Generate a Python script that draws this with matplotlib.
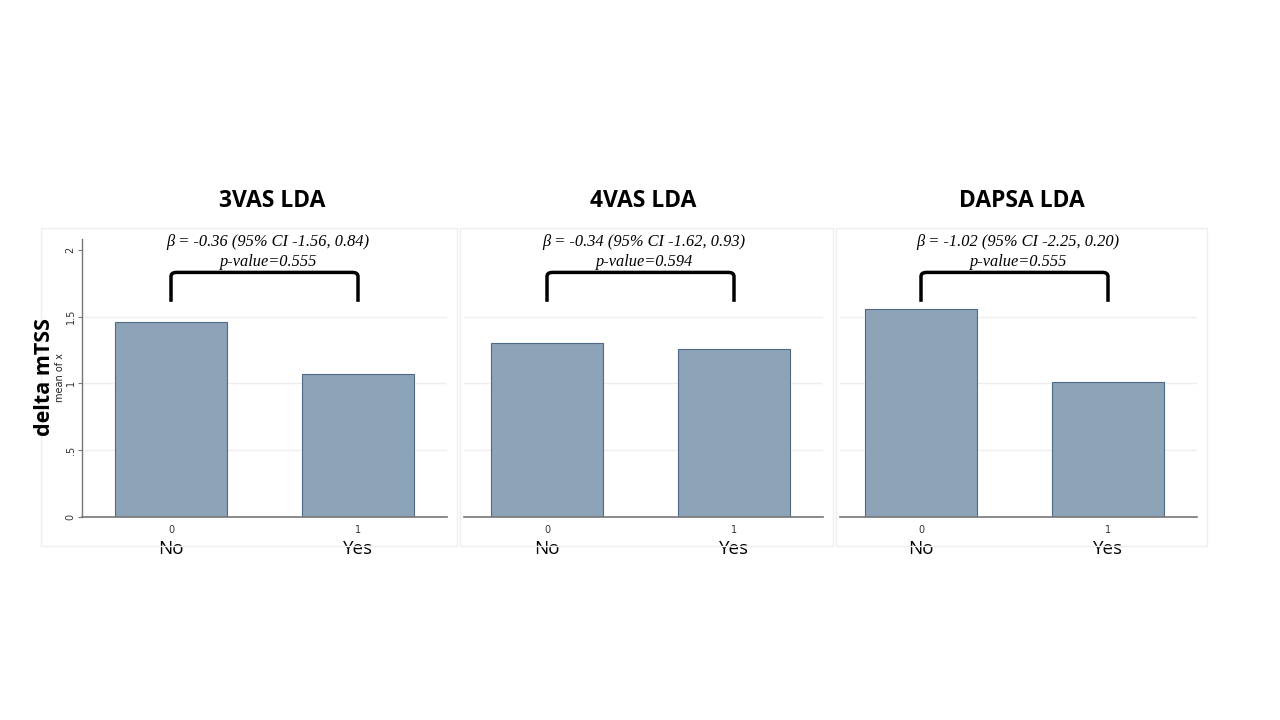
import matplotlib
matplotlib.use('Agg')
import matplotlib.pyplot as plt
from matplotlib.path import Path
from matplotlib.patches import PathPatch, Rectangle

# data
titles = ['3VAS LDA', '4VAS LDA', 'DAPSA LDA']
groups = [0, 1]
group_labels = ['No', 'Yes']
means_3vas = [1.46, 1.07]
means_4vas = [1.30, 1.26]
means_dapsa = [1.56, 1.01]
beta_lines = ['β = -0.36 (95% CI -1.56, 0.84)',
              'β = -0.34 (95% CI -1.62, 0.93)',
              'β = -1.02 (95% CI -2.25, 0.20)']
p_lines = ['p-value=0.555', 'p-value=0.594', 'p-value=0.555']
yticks = [0, 0.5, 1, 1.5, 2]
ytick_labels = ['0', '.5', '1', '1.5', '2']

all_means = [means_3vas, means_4vas, means_dapsa]

W, H = 1280, 720
fig = plt.figure(figsize=(12.8, 7.2), dpi=100)
fig.patch.set_facecolor('white')

bar_fill = '#8DA3B8'
bar_edge = '#4F6A85'
axis_col = '#777777'

# layout in pixels: x of group 0 centre, left edge of axes, panel box, title centre
centres = [171, 547, 921]
lefts = [82, 464, 840]
boxes = [(41, 457), (460, 833), (836, 1207)]
title_x = [272, 643, 1022]
step = 187
y_top, y_bot = 239, 517
ymax = 2.08

def fx(px):
    return px / W

def fy(py):
    return 1 - py / H

for i in range(3):
    bx0, bx1 = boxes[i]
    fig.patches.append(Rectangle((fx(bx0), fy(546)), fx(bx1 - bx0), (546 - 228) / H,
                                 transform=fig.transFigure, fill=False,
                                 edgecolor='#eeeeee', lw=1, zorder=0))

    c0 = centres[i]
    right = c0 + step * 1.476
    ax = fig.add_axes([fx(lefts[i]), fy(y_bot), fx(right - lefts[i]), (y_bot - y_top) / H])
    ax.set_xlim((lefts[i] - c0) / step, 1.476)
    ax.set_ylim(0, ymax)
    ax.patch.set_alpha(0)

    for g in [0.5, 1, 1.5]:
        ax.axhline(g, color='#eeeeee', lw=1, zorder=0)

    ax.bar(groups, all_means[i], width=0.6, color=bar_fill, edgecolor=bar_edge,
           linewidth=0.8, zorder=2)

    for s in ['top', 'right']:
        ax.spines[s].set_visible(False)
    ax.spines['bottom'].set_color(axis_col)
    ax.spines['bottom'].set_linewidth(1.2)

    ax.set_xticks(groups)
    ax.set_xticklabels([str(g) for g in groups], fontsize=7, color='#333333')
    ax.tick_params(axis='x', length=0, pad=6)

    if i == 0:
        ax.spines['left'].set_color(axis_col)
        ax.spines['left'].set_linewidth(1.0)
        ax.set_yticks(yticks)
        ax.set_yticklabels(ytick_labels, fontsize=7, color='#333333', rotation=90, va='center')
        ax.tick_params(axis='y', length=3, color=axis_col, pad=1.5)
        fig.text(fx(60), fy(378), 'mean of x', rotation=90, ha='center', va='center',
                 fontsize=7, color='#222222')
        fig.text(fx(45), fy(377), 'delta mTSS', rotation=90, ha='center', va='center',
                 fontsize=15.5, fontweight='bold', family='Open Sans')
    else:
        ax.spines['left'].set_visible(False)
        ax.set_yticks([])

    # bracket between the two bars
    yb, yh, r = 1.61, 1.83, 0.03
    verts = [(0, yb), (0, yh - r), (0, yh), (r, yh), (1 - r, yh), (1, yh), (1, yh - r), (1, yb)]
    codes = [Path.MOVETO, Path.LINETO, Path.CURVE3, Path.CURVE3, Path.LINETO,
             Path.CURVE3, Path.CURVE3, Path.LINETO]
    ax.add_patch(PathPatch(Path(verts, codes), fill=False, lw=2.5, edgecolor='black',
                           capstyle='butt', zorder=3, clip_on=False))

    ax.text(0.52, 2.06, beta_lines[i], ha='center', va='center', fontsize=11.8,
            family='Liberation Serif', style='italic', clip_on=False)
    ax.text(0.52, 1.91, p_lines[i], ha='center', va='center', fontsize=11.8,
            family='Liberation Serif', style='italic', clip_on=False)

    for g, lab in zip(groups, group_labels):
        ax.text(g, -32 / (y_bot - y_top), lab, transform=ax.get_xaxis_transform(),
                ha='center', va='center', fontsize=13.5, family='Open Sans')

    fig.text(fx(title_x[i]), fy(201), titles[i], ha='center', va='center',
             fontsize=16.5, fontweight='bold', family='Open Sans')

fig.savefig('out.png', dpi=100, facecolor='white')
